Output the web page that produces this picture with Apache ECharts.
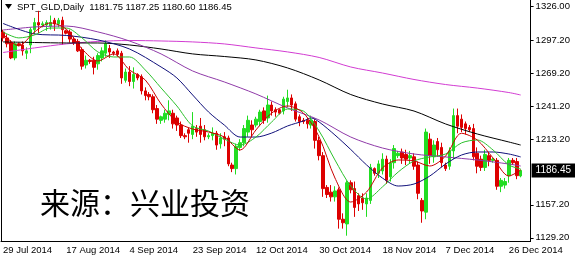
<!DOCTYPE html>
<html><head><meta charset="utf-8">
<script src="https://cdn.jsdelivr.net/npm/echarts@6/dist/echarts.min.js"></script>
<style>html,body{margin:0;padding:0;background:#fff}#c{width:578px;height:257px}</style>
</head><body><div id="c"></div>
<script>
const categories = ['29 Jul 2014','30 Jul 2014','31 Jul 2014','1 Aug 2014','3 Aug 2014','4 Aug 2014','5 Aug 2014','6 Aug 2014','7 Aug 2014','8 Aug 2014',
'10 Aug 2014','11 Aug 2014','12 Aug 2014','13 Aug 2014','14 Aug 2014','15 Aug 2014',
'17 Aug 2014','18 Aug 2014','19 Aug 2014','20 Aug 2014','21 Aug 2014','22 Aug 2014',
'24 Aug 2014','25 Aug 2014','26 Aug 2014','27 Aug 2014','28 Aug 2014','29 Aug 2014',
'31 Aug 2014','1 Sep 2014','2 Sep 2014','3 Sep 2014','4 Sep 2014','5 Sep 2014',
'7 Sep 2014','8 Sep 2014','9 Sep 2014','10 Sep 2014','11 Sep 2014','12 Sep 2014',
'14 Sep 2014','15 Sep 2014','16 Sep 2014','17 Sep 2014','18 Sep 2014','19 Sep 2014',
'21 Sep 2014','22 Sep 2014','23 Sep 2014','24 Sep 2014','25 Sep 2014','26 Sep 2014',
'28 Sep 2014','29 Sep 2014','30 Sep 2014','1 Oct 2014','2 Oct 2014','3 Oct 2014',
'5 Oct 2014','6 Oct 2014','7 Oct 2014','8 Oct 2014','9 Oct 2014','10 Oct 2014',
'12 Oct 2014','13 Oct 2014','14 Oct 2014','15 Oct 2014','16 Oct 2014','17 Oct 2014',
'19 Oct 2014','20 Oct 2014','21 Oct 2014','22 Oct 2014','23 Oct 2014','24 Oct 2014',
'26 Oct 2014','27 Oct 2014','28 Oct 2014','29 Oct 2014','30 Oct 2014','31 Oct 2014',
'2 Nov 2014','3 Nov 2014','4 Nov 2014','5 Nov 2014','6 Nov 2014','7 Nov 2014',
'9 Nov 2014','10 Nov 2014','11 Nov 2014','12 Nov 2014','13 Nov 2014','14 Nov 2014',
'16 Nov 2014','17 Nov 2014','18 Nov 2014','19 Nov 2014','20 Nov 2014','21 Nov 2014',
'23 Nov 2014','24 Nov 2014','25 Nov 2014','26 Nov 2014','27 Nov 2014','28 Nov 2014',
'30 Nov 2014','1 Dec 2014','2 Dec 2014','3 Dec 2014','4 Dec 2014','5 Dec 2014',
'7 Dec 2014','8 Dec 2014','9 Dec 2014','10 Dec 2014','11 Dec 2014','12 Dec 2014',
'14 Dec 2014','15 Dec 2014','16 Dec 2014','17 Dec 2014','18 Dec 2014','19 Dec 2014',
'21 Dec 2014','22 Dec 2014','23 Dec 2014','24 Dec 2014','26 Dec 2014',
'28 Dec 2014','29 Dec 2014','30 Dec 2014'];

const opens = [1304,1299,1295,1282,1294,1293,1286,1293,1306,1312,
1310,1310,1309,1314,1311,1314,1305,1304,1298,1296,1289,1276,1280,1280,1277,1282,1286,1290,1287,1288,
1286,1263,1270,1262,1268,1266,1254,1251,1249,1239,1229,1230,1234,1235,1231,1225,1216,1221,1217,1222,
1224,1221,1215,1216,1218,1209,1215,1214,1191,1188,1206,1210,1219,1225,1225,1228,1237,1231,1242,1238,
1238,1237,1245,1248,1243,1232,1229,1229,1225,1228,1212,1199,1172,1168,1164,1170,1145,1141,1176,1171,
1165,1163,1158,1161,1188,1184,1186,1196,1181,1193,1199,1202,1200,1197,1198,1191,1161,1151,1213,1198,
1211,1206,1191,1190,1203,1233,1230,1226,1223,1222,1201,1196,1189,1199,1195,1195,1173,1174,1182,1195,
1194,1181.75];
const highs = [1306,1302,1297,1296,1295,1296,1291,1308,1316,1322,
1313,1314,1318,1316,1316,1317,1306,1306,1300,1298,1291,1284,1281,1283,1286,1291,1297,1293,1288,1290,
1288,1273,1275,1274,1269,1268,1257,1253,1251,1242,1233,1238,1246,1238,1233,1228,1218,1223,1236,1225,
1231,1225,1218,1223,1220,1218,1219,1216,1193,1209,1213,1225,1233,1229,1232,1238,1240,1250,1245,1240,
1239,1249,1255,1251,1245,1234,1231,1231,1233,1230,1215,1202,1174,1174,1173,1172,1150,1178,1178,1177,
1167,1167,1167,1192,1189,1195,1201,1199,1196,1208,1203,1205,1204,1203,1201,1194,1163,1222,1218,1212,
1214,1210,1193,1206,1239,1239,1234,1228,1225,1226,1206,1199,1204,1202,1197,1197,1180,1180,1197,1197,
1197,1187.25];
const lows = [1296,1291,1281,1280,1292,1284,1281,1286,1302,1303,
1308,1305,1306,1305,1308,1293,1302,1295,1293,1287,1272,1273,1277,1268,1272,1279,1283,1282,1284,1283,
1260,1261,1258,1256,1263,1251,1246,1246,1235,1226,1226,1227,1229,1222,1220,1214,1213,1210,1213,1215,
1210,1212,1213,1212,1204,1205,1207,1190,1185,1183,1203,1207,1215,1215,1223,1224,1226,1227,1233,1232,
1234,1234,1240,1237,1228,1224,1226,1222,1222,1205,1195,1164,1163,1160,1160,1137,1137,1131,1167,1147,
1152,1153,1147,1158,1182,1180,1183,1175,1177,1188,1197,1192,1191,1192,1187,1162,1142,1145,1192,1193,
1198,1189,1186,1187,1196,1218,1219,1217,1219,1195,1184,1186,1186,1190,1193,1170,1168,1171,1176,1191,
1179,1180.60];
const closes = [1299,1294,1282,1294,1293,1288,1288,1306,1312,1310,
1311,1312,1312,1311,1314,1306,1303,1298,1295,1288,1275,1280,1279,1274,1284,1288,1294,1287,1286,1285,
1265,1270,1262,1268,1265,1254,1250,1249,1238,1230,1232,1235,1237,1226,1225,1216,1215,1218,1224,1219,
1217,1215,1216,1218,1208,1214,1213,1192,1188,1207,1210,1222,1229,1221,1230,1236,1229,1242,1237,1236,
1235,1247,1248,1242,1230,1228,1228,1226,1229,1212,1199,1171,1166,1164,1169,1145,1142,1176,1170,1155,
1158,1159,1163,1189,1184,1192,1196,1178,1193,1205,1201,1197,1196,1199,1190,1167,1152,1219,1199,1208,
1204,1193,1188,1203,1233,1224,1223,1222,1221,1198,1190,1189,1200,1195,1196,1173,1178,1177,1195,1193,
1182,1186.45];

// moving averages: [bar index, value]
const maFast = [[0,1302.4],[4,1292.2],[8,1304.1],[12,1311.7],[16,1306.6],[20,1289.6],[24,1279.4],[28,1285.4],[32,1271.8],[36,1263.3],[40,1242.9],[44,1227.6],[48,1221.6],[52,1219.1],[56,1214.8],[60,1203.8],[64,1220.8],[68,1235.2],[72,1241.2],[76,1235.2],[80,1214.8],[84,1180.0],[88,1159.6],[92,1168.1],[96,1188.5],[100,1195.3],[104,1194.5],[108,1190.2],[112,1198.7],[116,1218.0],[120,1212.3],[124,1197.0],[128,1181.7],[131,1186.8]];
const maGreen = [[0,1304.1],[4,1299.0],[8,1301.5],[12,1307.4],[16,1307.4],[20,1299.0],[24,1287.1],[28,1282.8],[32,1282.8],[36,1271.8],[40,1256.5],[44,1241.2],[48,1224.2],[52,1219.9],[56,1213.1],[60,1208.0],[64,1214.8],[68,1227.6],[72,1238.6],[76,1236.9],[80,1219.9],[84,1195.3],[88,1173.2],[92,1162.2],[96,1172.4],[100,1185.1],[104,1194.5],[108,1197.9],[112,1200.4],[116,1209.8],[120,1212.3],[124,1203.8],[128,1191.1],[131,1187.7]];
const maNavy = [[0,1311.3],[8,1302.4],[16,1301.1],[24,1297.3],[32,1289.6],[40,1274.3],[44,1265.0],[48,1250.5],[52,1236.1],[56,1225.0],[60,1214.8],[64,1214.8],[68,1218.2],[72,1224.2],[76,1228.4],[78,1231.0],[80,1227.6],[84,1216.5],[88,1204.2],[92,1191.1],[96,1180.0],[100,1173.2],[104,1174.9],[108,1181.7],[112,1191.9],[116,1199.5],[120,1202.1],[124,1202.1],[128,1200.4],[131,1197.9]];
const maPurple = [[0,1305.7],[8,1308.3],[16,1309.1],[24,1304.1],[32,1296.4],[40,1285.4],[48,1270.9],[56,1261.6],[64,1251.4],[72,1239.5],[80,1229.3],[88,1214.8],[96,1205.5],[104,1200.4],[112,1197.9],[120,1195.3],[128,1191.9],[131,1190.2]];
const maBlack = [[0,1295.6],[8,1295.1],[16,1294.7],[24,1294.7],[32,1293.0],[40,1289.6],[48,1285.4],[56,1283.2],[64,1280.3],[72,1273.5],[80,1263.3],[88,1250.9],[96,1242.9],[104,1236.9],[112,1225.9],[120,1217.4],[128,1210.6],[131,1208.0]];
const maMagenta = [[0,1286.6],[8,1290.5],[16,1293.9],[24,1296.0],[32,1296.8],[40,1296.4],[48,1295.6],[56,1293.9],[64,1290.5],[72,1287.1],[80,1282.4],[88,1274.3],[96,1269.2],[104,1263.7],[112,1259.4],[120,1256.4],[128,1252.6],[131,1250.5]];

const yTickValues = [1129.2,1157.2,1213.2,1241.2,1269.2,1297.2,1326.0];
const symbolName = 'SPT_GLD,Daily';

const n = closes.length;
const lastPrice = closes[n-1];
const candle = opens.map((o,i)=>[o, closes[i], lows[i], highs[i]]);
const xData = categories.concat(['','']);
const yMin = 1126.5, yMax = 1331.2;
const F = '"Liberation Sans", Arial, sans-serif';

function ma(data, color){
  return {type:'line', data:data, smooth:0.3, showSymbol:false, connectNulls:true, z:5,
    lineStyle:{color:color, width:1}, itemStyle:{color:color}};
}

const chart = echarts.init(document.getElementById('c'), null, {renderer:'canvas'});
chart.setOption({
  animation:false,
  grid:{left:1, right:42, top:0, bottom:16},
  xAxis:{type:'category', data:xData, boundaryGap:true,
    axisLine:{lineStyle:{color:'#000', width:1}},
    axisTick:{interval:(i)=>i%16===0, length:4, lineStyle:{color:'#000'}},
    axisLabel:{interval:(i)=>i%16===0, align:'left', margin:4, color:'#000', fontSize:9.5, fontFamily:F},
    splitLine:{show:false}},
  yAxis:[{type:'value', position:'right', min:yMin, max:yMax,
      axisLine:{show:true, lineStyle:{color:'#000'}},
      axisTick:{show:true, customValues:yTickValues, length:3, lineStyle:{color:'#000'}},
      axisLabel:{customValues:yTickValues.concat([lastPrice]), margin:1,
        formatter:v => Math.abs(v-lastPrice)<0.001 ? '{box|'+v.toFixed(2)+'}' : '{n|'+v.toFixed(2)+'}',
        rich:{n:{color:'#000', fontSize:9.5, padding:[0,0,0,4], fontFamily:F},
              box:{color:'#fff', backgroundColor:'#000', fontSize:10, padding:[2,4,2,4], fontFamily:F}}},
      splitLine:{show:false}},
    {type:'value', position:'left', min:yMin, max:yMax,
      axisLine:{show:true, lineStyle:{color:'#000'}}, axisTick:{show:false}, axisLabel:{show:false}, splitLine:{show:false}}],
  series:[
    {type:'candlestick', data:candle, barWidth:3, z:3,
      itemStyle:{color:'#22dd22', color0:'#dd0000', borderColor:'#22dd22', borderColor0:'#dd0000', borderColorDoji:'#22dd22', borderWidth:1}},
    ma(maMagenta,'#d23cd2'),
    ma(maBlack,'#000000'),
    ma(maPurple,'#8f3aa8'),
    ma(maNavy,'#10107a'),
    ma(maGreen,'#2cc02c'),
    ma(maFast,'#c80000')
  ],
  graphic:[
    {type:'polygon', shape:{points:[[5,4],[12,4],[8.5,9]]}, style:{fill:'#000'}},
    {type:'text', x:17, y:7, style:{text:symbolName+'  '+[opens[n-1],highs[n-1],lows[n-1],closes[n-1]].map(v=>v.toFixed(2)).join(' '), fill:'#000', font:'9.5px '+F, verticalAlign:'middle'}},
    {type:'text', x:40, y:203, style:{text:'来源：兴业投资', fill:'#000', font:'30px "Noto Sans CJK SC"', verticalAlign:'middle'}}
  ]
});
</script></body></html>
